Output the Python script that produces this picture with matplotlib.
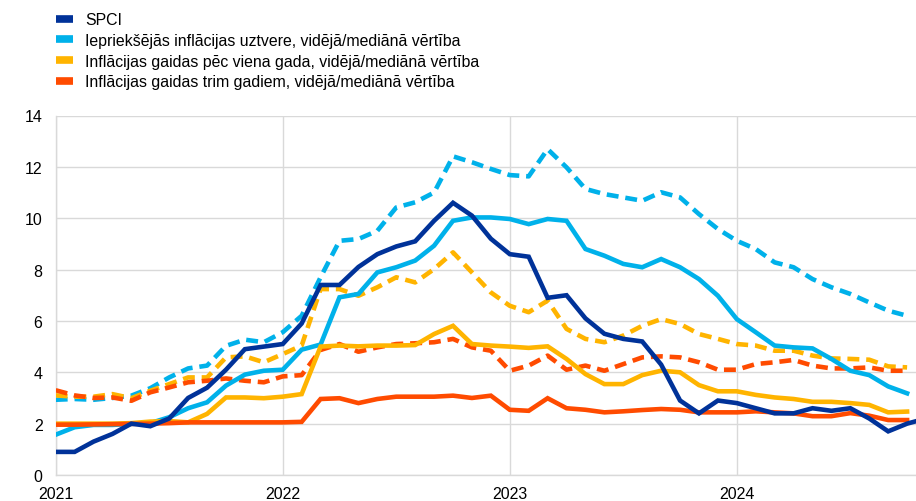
import matplotlib
matplotlib.use("Agg")
import matplotlib.pyplot as plt
from matplotlib.lines import Line2D

plt.rcParams["font.family"] = ["Liberation Sans", "DejaVu Sans"]

# monthly, Jan 2021 = 0
years = ["2021", "2022", "2023", "2024"]

spci = [0.9, 0.9, 1.3, 1.6, 2.0, 1.9, 2.2, 3.0, 3.4, 4.1, 4.9, 5.0,
        5.1, 5.9, 7.4, 7.4, 8.1, 8.6, 8.9, 9.1, 9.9, 10.6, 10.1, 9.2,
        8.6, 8.5, 6.9, 7.0, 6.1, 5.5, 5.3, 5.2, 4.3, 2.9, 2.4, 2.9,
        2.8, 2.6, 2.4, 2.4, 2.6, 2.5, 2.6, 2.2, 1.7, 2.0, 2.2]

perceived_mean = [2.93, 2.96, 2.93, 3.0, 3.09, 3.38, 3.8, 4.15, 4.26, 5.03, 5.27, 5.17,
                  5.56, 6.2, 7.7, 9.12, 9.19, 9.51, 10.42, 10.62, 11.0, 12.41, 12.18, 11.92,
                  11.68, 11.63, 12.69, 11.98, 11.14, 10.94, 10.81, 10.68, 11.01, 10.81, 10.16, 9.58,
                  9.12, 8.8, 8.28, 8.09, 7.63, 7.31, 7.05, 6.72, 6.4, 6.2]
perceived_median = [1.57, 1.86, 1.95, 1.95, 1.99, 2.02, 2.25, 2.6, 2.83, 3.48, 3.91, 4.06,
                    4.1, 4.88, 5.08, 6.92, 7.05, 7.89, 8.09, 8.35, 8.93, 9.9, 10.03, 10.03,
                    9.97, 9.77, 9.97, 9.9, 8.8, 8.54, 8.22, 8.09, 8.41, 8.09, 7.63, 6.98,
                    6.07, 5.56, 5.04, 4.97, 4.93, 4.52, 4.06, 3.89, 3.45, 3.18]
exp1y_mean = [3.1, 3.05, 3.05, 3.15, 2.99, 3.28, 3.54, 3.8, 3.8, 4.58, 4.62, 4.39,
              4.71, 5.04, 7.24, 7.24, 6.98, 7.31, 7.7, 7.5, 8.02, 8.67, 7.89, 7.11,
              6.59, 6.34, 6.79, 5.69, 5.3, 5.17, 5.43, 5.81, 6.07, 5.88, 5.49, 5.3,
              5.1, 5.04, 4.84, 4.84, 4.65, 4.54, 4.52, 4.49, 4.23, 4.19]
exp1y_median = [2.0, 2.0, 2.0, 2.0, 2.02, 2.08, 2.1, 2.05, 2.38, 3.02, 3.02, 2.99,
                3.05, 3.15, 5.0, 5.04, 5.01, 5.04, 5.04, 5.06, 5.49, 5.81, 5.1, 5.04,
                5.0, 4.95, 5.01, 4.52, 3.93, 3.54, 3.54, 3.89, 4.06, 4.0, 3.5, 3.26,
                3.26, 3.12, 3.02, 2.96, 2.85, 2.85, 2.8, 2.73, 2.44, 2.47]
exp3y_mean = [3.3, 3.1, 3.0, 3.02, 2.89, 3.22, 3.41, 3.61, 3.67, 3.76, 3.67, 3.61,
              3.84, 3.89, 4.87, 5.1, 4.8, 4.97, 5.1, 5.13, 5.17, 5.3, 4.97, 4.84,
              4.06, 4.26, 4.65, 4.1, 4.26, 4.06, 4.32, 4.58, 4.62, 4.58, 4.39, 4.1,
              4.1, 4.32, 4.39, 4.48, 4.26, 4.15, 4.15, 4.19, 4.06, 4.06]
exp3y_median = [1.96, 1.96, 1.97, 1.98, 1.99, 2.0, 2.02, 2.05, 2.05, 2.05, 2.05, 2.05,
                2.05, 2.07, 2.96, 2.99, 2.8, 2.96, 3.05, 3.05, 3.05, 3.09, 3.0, 3.09,
                2.54, 2.5, 2.99, 2.6, 2.54, 2.44, 2.48, 2.53, 2.57, 2.54, 2.44, 2.44,
                2.44, 2.48, 2.44, 2.4, 2.29, 2.29, 2.41, 2.31, 2.14, 2.14]

labels = [
    "SPCI",
    "Iepriekšējās inflācijas uztvere, vidējā/mediānā vērtība",
    "Inflācijas gaidas pēc viena gada, vidējā/mediānā vērtība",
    "Inflācijas gaidas trim gadiem, vidējā/mediānā vērtība",
]
DARK = "#003299"
LIGHT = "#00B1EA"
YELLOW = "#FFB400"
ORANGE = "#FF4B00"
GRID = "#d9d9d9"

W, H = 916, 502
fig = plt.figure(figsize=(W / 100, H / 100), dpi=100)
x0, x1, ytop, ybot = 55.7, 916, 116.5, 476
ax = fig.add_axes([x0 / W, 1 - ybot / H, (x1 - x0) / W, (ybot - ytop) / H])

lw = 3.3
dash = (0, (2.6, 1.5))
for series, col in [(perceived_mean, LIGHT), (exp1y_mean, YELLOW), (exp3y_mean, ORANGE)]:
    ax.plot(range(len(series)), series, color=col, lw=lw, ls=dash,
            dash_capstyle="butt", solid_joinstyle="miter", zorder=3)
for series, col in [(perceived_median, LIGHT), (exp1y_median, YELLOW), (exp3y_median, ORANGE)]:
    ax.plot(range(len(series)), series, color=col, lw=lw, solid_joinstyle="miter", zorder=4)
ax.plot(range(len(spci)), spci, color=DARK, lw=lw, solid_joinstyle="miter", zorder=5)

ax.set_ylim(0, 14)
ax.set_xlim(0, (x1 - x0) / 18.92)
ax.set_yticks(range(0, 15, 2))
ax.set_xticks([12 * i for i in range(len(years))])
ax.set_xticklabels(years)
ax.tick_params(length=0, labelsize=11.5, colors="black", pad=8)
ax.tick_params(axis="y", pad=9.5)
ax.grid(True, color=GRID, lw=1)
ax.set_axisbelow(True)
for s in ["top", "right"]:
    ax.spines[s].set_visible(False)
for s in ["left", "bottom"]:
    ax.spines[s].set_color(GRID)
    ax.spines[s].set_linewidth(1)

handles = [Line2D([], [], color=c, lw=5.5, solid_capstyle="butt") for c in [DARK, LIGHT, YELLOW, ORANGE]]
fig.legend(handles, labels, loc="upper left", bbox_to_anchor=(50 / W, 1 - 7 / H),
           frameon=False, fontsize=11.4, handlelength=1.08, handletextpad=0.76,
           labelspacing=0.36, borderaxespad=0)

fig.savefig("out.png", dpi=100)
